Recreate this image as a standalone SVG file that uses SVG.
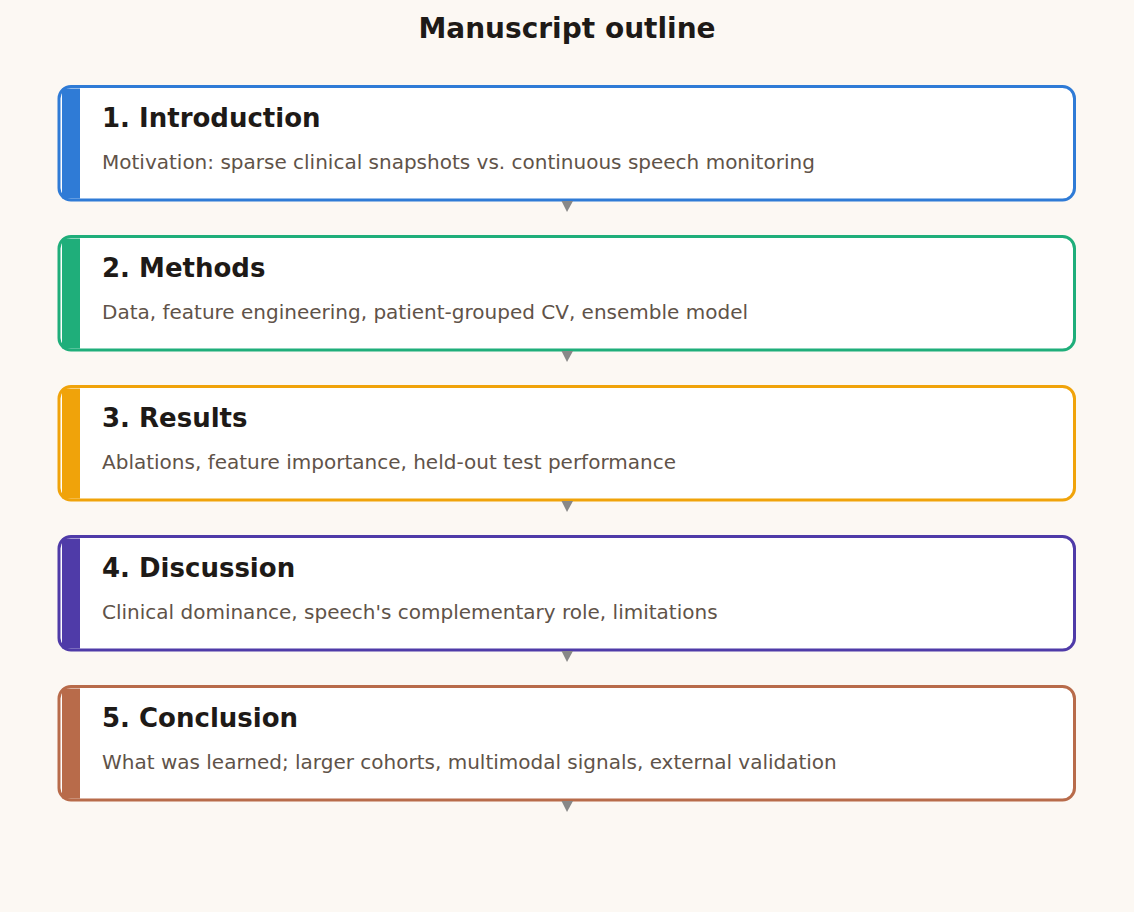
<svg xmlns="http://www.w3.org/2000/svg" width="1134" height="912" viewBox="0 0 1134 912">
  <defs>
    <style>
      .bg { fill: #fcf8f3; }
      .title { font-family: "DejaVu Sans", sans-serif; font-size: 28px; font-weight: bold; fill: #1e1a17; }
      .card { fill: #ffffff; stroke-width: 3; }
      .head { font-family: "DejaVu Sans", sans-serif; font-size: 26px; font-weight: bold; fill: #1e1a17; }
      .sub { font-family: "DejaVu Sans", sans-serif; font-size: 20px; fill: #5f5349; }
      .arrowhead { fill: #888888; }
    </style>
  </defs>
  <rect class="bg" x="0" y="0" width="1134" height="912"/>
  <text class="title" x="567" y="38" text-anchor="middle">Manuscript outline</text>

  <g id="intro">
    <rect class="card" x="59" y="86.5" width="1015.5" height="113.5" rx="12" stroke="#2f7bd6"/>
    <rect x="62" y="88.5" width="18" height="110" fill="#2f7bd6"/>
    <text class="head" x="102" y="127">1. Introduction</text>
    <text class="sub" x="102" y="169">Motivation: sparse clinical snapshots vs. continuous speech monitoring</text>
  </g>
  <g id="methods">
    <rect class="card" x="59" y="236.5" width="1015.5" height="113.5" rx="12" stroke="#1fae7a"/>
    <rect x="62" y="238.5" width="18" height="110" fill="#1fae7a"/>
    <text class="head" x="102" y="277">2. Methods</text>
    <text class="sub" x="102" y="319">Data, feature engineering, patient-grouped CV, ensemble model</text>
  </g>
  <g id="results">
    <rect class="card" x="59" y="386.5" width="1015.5" height="113.5" rx="12" stroke="#f0a30a"/>
    <rect x="62" y="388.5" width="18" height="110" fill="#f0a30a"/>
    <text class="head" x="102" y="427">3. Results</text>
    <text class="sub" x="102" y="469">Ablations, feature importance, held-out test performance</text>
  </g>
  <g id="discussion">
    <rect class="card" x="59" y="536.5" width="1015.5" height="113.5" rx="12" stroke="#4f3ba8"/>
    <rect x="62" y="538.5" width="18" height="110" fill="#4f3ba8"/>
    <text class="head" x="102" y="577">4. Discussion</text>
    <text class="sub" x="102" y="619">Clinical dominance, speech's complementary role, limitations</text>
  </g>
  <g id="conclusion">
    <rect class="card" x="59" y="686.5" width="1015.5" height="113.5" rx="12" stroke="#b86b4a"/>
    <rect x="62" y="688.5" width="18" height="110" fill="#b86b4a"/>
    <text class="head" x="102" y="727">5. Conclusion</text>
    <text class="sub" x="102" y="769">What was learned; larger cohorts, multimodal signals, external validation</text>
  </g>

  <g id="connectors">
    <polygon class="arrowhead" points="561.5,201 573,201 567,212"/>
    <polygon class="arrowhead" points="561.5,351 573,351 567,362"/>
    <polygon class="arrowhead" points="561.5,501 573,501 567,512"/>
    <polygon class="arrowhead" points="561.5,651 573,651 567,662"/>
    <polygon class="arrowhead" points="561.5,801 573,801 567,812"/>
  </g>
</svg>
